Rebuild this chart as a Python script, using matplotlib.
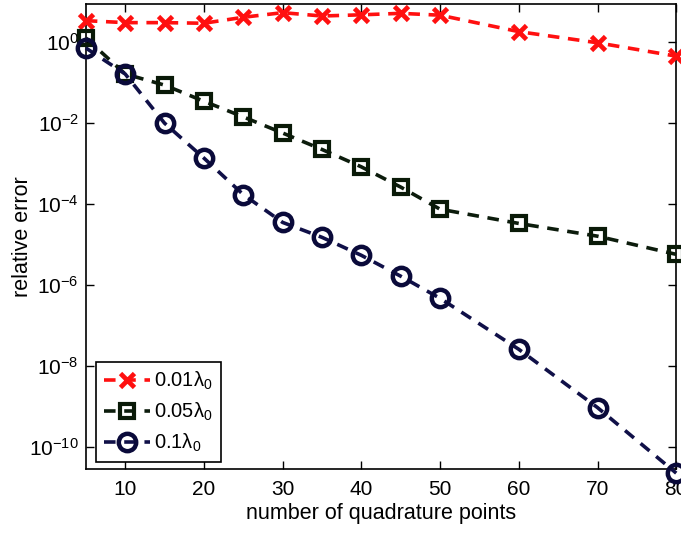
import matplotlib
matplotlib.use("Agg")
import matplotlib.pyplot as plt
from matplotlib.ticker import FixedLocator, FixedFormatter, NullLocator

plt.rcParams['font.family'] = ['Liberation Sans', 'DejaVu Sans']
plt.rcParams['mathtext.fontset'] = 'custom'
plt.rcParams['mathtext.rm'] = 'Liberation Sans'
plt.rcParams['mathtext.it'] = 'Liberation Sans'

n_points = [5, 10, 15, 20, 25, 30, 35, 40, 45, 50, 60, 70, 80]
err_001 = [3.3, 2.95, 2.95, 2.85, 4.0, 5.2, 4.3, 4.6, 5.0, 4.5, 1.77, 0.94, 0.44]
err_005 = [1.23, 0.16, 0.085, 0.034, 0.014, 0.0056, 0.0022, 8.2e-4, 2.6e-4, 7.4e-5, 3.3e-5, 1.6e-5, 5.7e-6]
err_01 = [0.7, 0.16, 0.0098, 1.35e-3, 1.7e-4, 3.5e-5, 1.5e-5, 5.4e-6, 1.65e-6, 4.7e-7, 2.6e-8, 9.5e-10, 2.3e-11]
labels = [r'0.01$\lambda_0$', r'0.05$\lambda_0$', r'0.1$\lambda_0$']
x_ticks = [10, 20, 30, 40, 50, 60, 70, 80]
y_ticks = [1e-10, 1e-8, 1e-6, 1e-4, 1e-2, 1e0]
y_tick_labels = [r'$10^{-10}$', r'$10^{-8}$', r'$10^{-6}$', r'$10^{-4}$', r'$10^{-2}$', r'$10^{0}$']

fig = plt.figure(figsize=(6.81, 5.33), dpi=100)
ax = fig.add_axes([0.126, 0.120, 0.867, 0.8725])

dash = (3.2, 2.4)
ax.plot(n_points, err_001, color='#ff1010', lw=2.6, dashes=dash, marker='x',
        ms=10, mew=3.4, clip_on=False, label=labels[0], zorder=3)
ax.plot(n_points, err_005, color='#0c1c0c', lw=2.6, dashes=dash, marker='s',
        ms=10, mew=3.0, mfc='none', mec='#0a1a08', clip_on=False, label=labels[1], zorder=3)
ax.plot(n_points, err_01, color='#101048', lw=2.6, dashes=dash, marker='o',
        ms=12.5, mew=3.2, mfc='none', mec='#0a0a3a', clip_on=False, label=labels[2], zorder=3)

ax.set_yscale('log')
ax.set_xlim(5, 80)
ax.set_ylim(2.9e-11, 8.5)
ax.xaxis.set_major_locator(FixedLocator(x_ticks))
ax.yaxis.set_major_locator(FixedLocator(y_ticks))
ax.yaxis.set_major_formatter(FixedFormatter(y_tick_labels))
ax.yaxis.set_minor_locator(NullLocator())
ax.tick_params(direction='in', length=6, width=1, top=True, right=True,
               labelsize=15, pad=5)
ax.tick_params(axis='x', pad=8)
for s in ax.spines.values():
    s.set_linewidth(1.2)

ax.set_xlabel('number of quadrature points', fontsize=15.5, labelpad=3)
ax.set_ylabel('relative error', fontsize=15.5)
ax.yaxis.set_label_coords(-0.09, 0.5)

leg = ax.legend(loc='lower left', bbox_to_anchor=(0.017, 0.015), borderaxespad=0,
                fontsize=14.5, frameon=True, fancybox=False, edgecolor='black',
                framealpha=1, handlelength=2.3, handletextpad=0.2, borderpad=0.4,
                labelspacing=0.42)
leg.get_frame().set_linewidth(1.2)

fig.savefig('out.png', dpi=100)
